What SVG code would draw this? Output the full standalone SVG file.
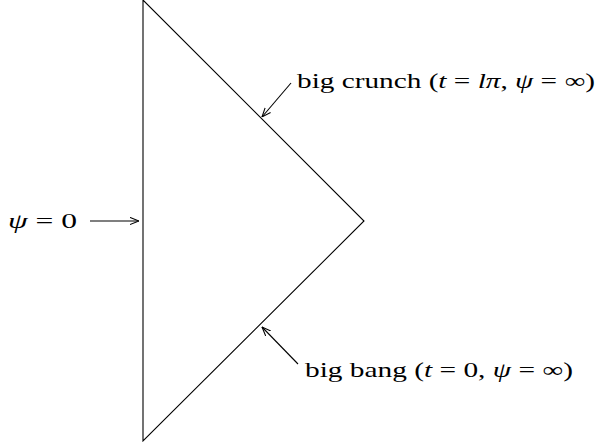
<svg xmlns="http://www.w3.org/2000/svg" width="596" height="448" viewBox="0 0 596 448">
<style>
.ln{stroke:#000;stroke-width:1.1;fill:none}
.t{font-family:"Liberation Serif","Times New Roman",serif;font-size:21px;fill:#000}
.m{font-style:italic}
</style>
<defs>
<marker id="ah" viewBox="0 0 10 10" refX="10" refY="5" markerWidth="9" markerHeight="9" markerUnits="userSpaceOnUse" orient="auto">
<path d="M0,1 L10,5 L0,9" fill="none" stroke="#000" stroke-width="1.2"/>
</marker>
</defs>
<rect width="596" height="448" fill="#fff"/>
<g id="region">
<polygon class="ln" points="143,0 364,221 143,441"/>
</g>
<g id="connectors">
<line class="ln" x1="90" y1="221" x2="139" y2="221" marker-end="url(#ah)"/>
<line class="ln" x1="291" y1="83" x2="262" y2="117" marker-end="url(#ah)"/>
<line class="ln" x1="298" y1="364" x2="262" y2="327" marker-end="url(#ah)"/>
</g>
<g id="label-psi0">
<text class="t" x="8" y="228" textLength="69" lengthAdjust="spacingAndGlyphs"><tspan class="m">ψ</tspan> = 0</text>
</g>
<g id="label-crunch">
<text class="t" x="297" y="88" textLength="298" lengthAdjust="spacingAndGlyphs">big crunch (<tspan class="m">t</tspan> = <tspan class="m">lπ</tspan>, <tspan class="m">ψ</tspan> = ∞)</text>
</g>
<g id="label-bang">
<text class="t" x="305" y="377" textLength="268" lengthAdjust="spacingAndGlyphs">big bang (<tspan class="m">t</tspan> = 0, <tspan class="m">ψ</tspan> = ∞)</text>
</g>
</svg>
